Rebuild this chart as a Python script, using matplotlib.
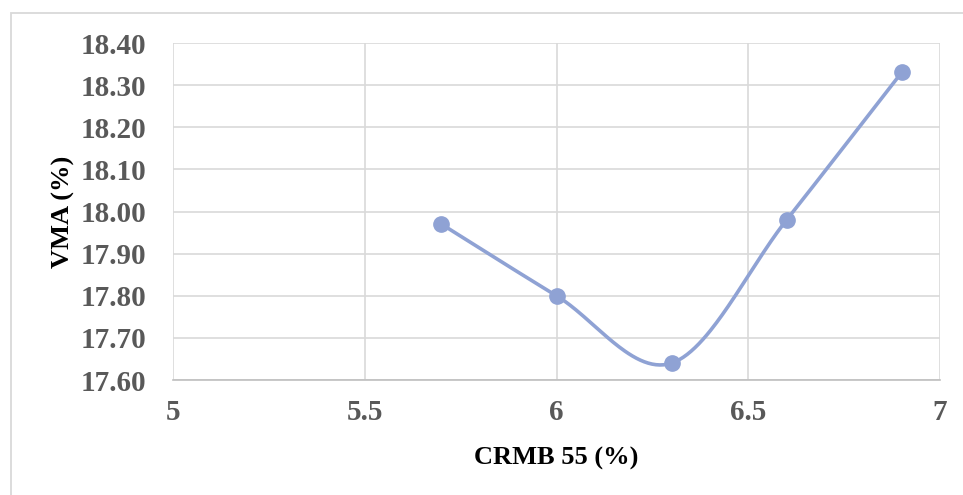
import numpy as np
import matplotlib
matplotlib.use("Agg")
import matplotlib.pyplot as plt
from matplotlib.patches import Rectangle

# CRMB 55 content vs. voids in mineral aggregate
crmb = [5.7, 6.0, 6.3, 6.6, 6.9]
vma = [17.97, 17.80, 17.64, 17.98, 18.33]
x_ticks = [5, 5.5, 6, 6.5, 7]
x_tick_labels = ["5", "5.5", "6", "6.5", "7"]
y_ticks = [17.60, 17.70, 17.80, 17.90, 18.00, 18.10, 18.20, 18.30, 18.40]
y_tick_labels = ["17.60", "17.70", "17.80", "17.90", "18.00", "18.10", "18.20", "18.30", "18.40"]


def smooth_curve(xs, ys, n=60):
    """Piecewise cubic Bezier through the points (spreadsheet-style smoothing)."""
    pts = np.column_stack([xs, ys]).astype(float)
    ext = np.vstack([pts[0], pts, pts[-1]])
    out = []
    t = np.linspace(0, 1, n)[:, None]
    for i in range(len(pts) - 1):
        p0 = ext[i + 1]
        p3 = ext[i + 2]
        c1 = p0 + (ext[i + 2] - ext[i]) / 6.0
        c2 = p3 - (ext[i + 3] - ext[i + 1]) / 6.0
        seg = ((1 - t) ** 3) * p0 + 3 * ((1 - t) ** 2) * t * c1 + 3 * (1 - t) * t ** 2 * c2 + t ** 3 * p3
        out.append(seg if i == 0 else seg[1:])
    seg = np.vstack(out)
    return seg[:, 0], seg[:, 1]


W, H = 963, 495
fig = plt.figure(figsize=(W / 100, H / 100), dpi=100)
fig.patch.set_facecolor("white")

# outer chart frame
fig.patches.append(Rectangle((11 / W, -0.05), 1.2, 1 - 13 / H + 0.05,
                             transform=fig.transFigure, fill=False,
                             edgecolor="#d9d9d9", linewidth=1.3))

ax = fig.add_axes([173 / W, 1 - 380 / H, (940 - 173) / W, (380 - 43) / H])
ax.set_xlim(5, 7)
ax.set_ylim(17.60, 18.40)

ax.set_xticks(x_ticks)
ax.set_xticklabels(x_tick_labels)
ax.set_yticks(y_ticks)
ax.set_yticklabels(y_tick_labels)

ax.grid(True, color="#d9d9d9", linewidth=1.2)
ax.set_axisbelow(True)
for side in ["top", "right", "left"]:
    ax.spines[side].set_visible(False)
ax.spines["bottom"].set_color("#bfbfbf")
ax.spines["bottom"].set_linewidth(1.2)
ax.tick_params(length=0)

for lab in ax.get_xticklabels() + ax.get_yticklabels():
    lab.set_fontfamily("Liberation Serif")
    lab.set_fontweight("bold")
    lab.set_fontsize(21)
    lab.set_color("#595959")
ax.tick_params(axis="y", pad=19)
ax.tick_params(axis="x", pad=14)

color = "#8fa2d4"
sx, sy = smooth_curve(crmb, vma)
ax.plot(sx, sy, color=color, linewidth=2.6, solid_capstyle="round", zorder=3)
ax.plot(crmb, vma, linestyle="none", marker="o", markersize=11,
        color=color, zorder=4)

ax.set_xlabel("CRMB 55 (%)", fontfamily="Liberation Serif", fontweight="bold",
              fontsize=19, color="black", labelpad=15)
ax.set_ylabel("VMA (%)", fontfamily="Liberation Serif", fontweight="bold",
              fontsize=19, color="black", labelpad=4)

fig.savefig("out.png", dpi=100)
